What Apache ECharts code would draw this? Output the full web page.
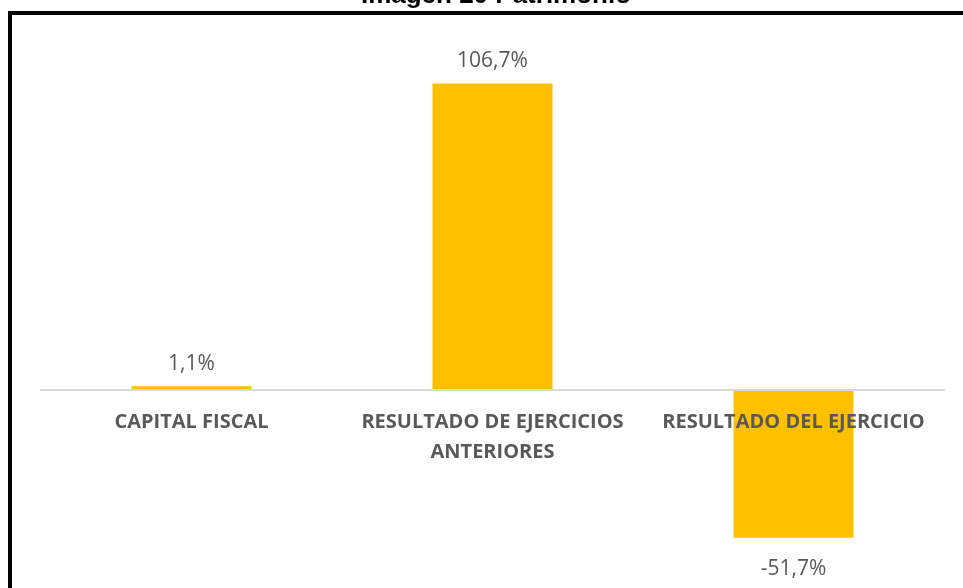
<!DOCTYPE html>
<html>
<head>
<meta charset="utf-8">
<title>Imagen 20 Patrimonio</title>
<script src="https://cdn.jsdelivr.net/npm/echarts@6/dist/echarts.min.js"></script>
<style>
  html, body { margin: 0; padding: 0; background: #fff; }
  #chart { width: 963px; height: 588px; }
</style>
</head>
<body>
<div id="chart"></div>
<script>
// Composición del patrimonio (% del total)
const categories = ['CAPITAL FISCAL', 'RESULTADO DE EJERCICIOS\nANTERIORES', 'RESULTADO DEL EJERCICIO'];
const values = [1.1, 106.7, -51.7];

const chartTitle = 'Imagen 20 Patrimonio';

function fmtPct(v) {
  return v.toFixed(1).replace('.', ',') + '%';
}

// Plot area and value range
const H = 588;
const gridTop = 45.3;
const gridBottom = 26.5;
const yMin = -60;
const yMax = 120;
const gridHeight = H - gridTop - gridBottom;
// Category axis sits on the zero line: shift it up from the grid bottom
const zeroOffset = -gridHeight * (0 - yMin) / (yMax - yMin);

const chart = echarts.init(document.getElementById('chart'));

const seriesData = values.map(v => ({
  value: v,
  label: { position: v < 0 ? 'bottom' : 'top', distance: v < 0 ? 21 : 12 }
}));

chart.setOption({
  backgroundColor: '#ffffff',
  animation: false,
  title: {
    text: chartTitle,
    left: 491,
    textAlign: 'center',
    top: -22,
    textStyle: {
      fontFamily: '"Liberation Sans", Arial, sans-serif',
      fontWeight: 'bold',
      fontSize: 26,
      color: '#000000'
    }
  },
  graphic: [{
    type: 'rect',
    z: -10,
    shape: { x: 10, y: 13, width: 1000, height: 600 },
    style: { fill: 'none', stroke: '#000000', lineWidth: 4 }
  }],
  grid: {
    left: 41, right: 19, top: gridTop, bottom: gridBottom,
    containLabel: false, outerBoundsMode: 'none'
  },
  xAxis: {
    type: 'category',
    data: categories,
    z: 5,
    offset: zeroOffset,
    axisLine: { show: true, onZero: false, lineStyle: { color: '#d9d9d9', width: 2 } },
    axisTick: { show: false },
    axisLabel: {
      interval: 0,
      margin: 18,
      fontFamily: '"Open Sans", sans-serif',
      fontWeight: 'bold',
      fontSize: 20,
      lineHeight: 30,
      color: '#595959'
    }
  },
  yAxis: {
    type: 'value',
    min: yMin,
    max: yMax,
    show: false,
    splitLine: { show: false }
  },
  series: [{
    type: 'bar',
    data: seriesData,
    barWidth: 120,
    itemStyle: { color: '#ffc000' },
    label: {
      show: true,
      formatter: p => fmtPct(p.value),
      fontFamily: '"Open Sans", sans-serif',
      fontSize: 21,
      color: '#595959'
    }
  }]
});
</script>
</body>
</html>
